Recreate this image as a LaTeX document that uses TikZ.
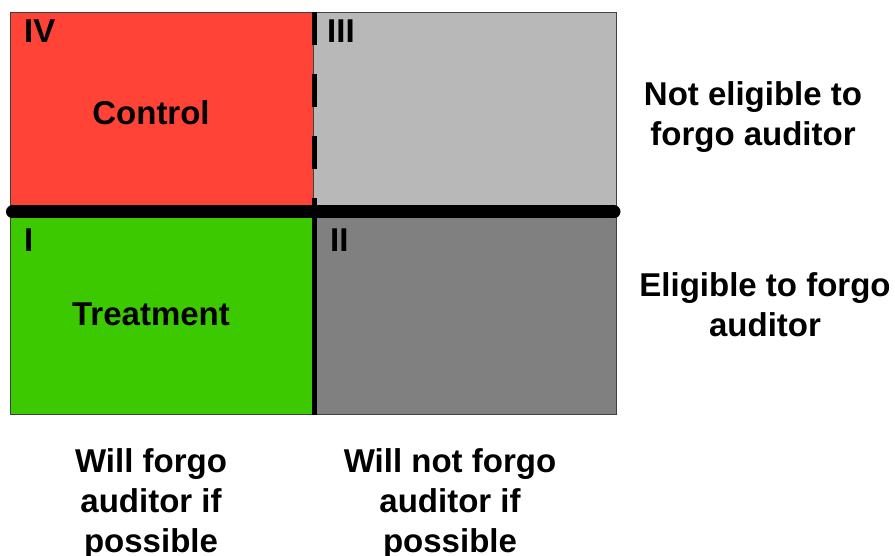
\documentclass[tikz,border=0pt]{standalone}
\usepackage{fontspec}
\setmainfont{Liberation Sans}
\usetikzlibrary{positioning}
\definecolor{ctrlred}{RGB}{255,67,55}
\definecolor{treatgreen}{RGB}{61,201,0}
\definecolor{greylight}{RGB}{184,184,184}
\definecolor{greydark}{RGB}{128,128,128}
\tikzset{
	quad/.style={draw=black!75, line width=1pt, minimum width=303pt, minimum height=201pt, inner sep=0pt, anchor=north west},
	lbl/.style={font=\bfseries\fontsize{33}{40}\selectfont, inner sep=0pt, align=center},
	roman/.style={lbl, anchor=north west}
}
\begin{document}
\begin{tikzpicture}[x=1pt,y=-1pt]
		\useasboundingbox (0,0) rectangle (895,556);
		% the four groups
		\node[quad, fill=ctrlred]    (q4) at (10,12)   {};
		\node[quad, fill=greylight]  (q3) at (313,12)  {};
		\node[quad, fill=treatgreen] (q1) at (10,213)  {};
		\node[quad, fill=greydark]   (q2) at (313,213) {};
		% dividing lines
		\draw[line width=5pt, dash pattern=on 33pt off 29pt] (q4.north east) -- (q4.south east);
		\draw[line width=5pt] (q1.north east) -- (q1.south east);
		\coordinate (hl) at (12.5,212);
		\coordinate (hr) at (614,212);
		\draw[line width=13pt, line cap=round] (hl) -- (hr);
		% labels
		\node[roman] (n4) at (24,20)  {IV};
		\node[roman] (n3) at (327,20) {III};
		\node[roman] (n1) at (24,229) {I};
		\node[roman] (n2) at (330,229) {II};
		\node[lbl] (ctl) at (151,112.5) {Control};
		\node[lbl] (trt) at (151,314.5) {Treatment};
		\node[lbl, anchor=north] (inel) at (753,81)  {Not eligible to\\forgo auditor};
		\node[lbl, anchor=north] (elig) at (765,272) {Eligible to forgo\\auditor};
		\node[lbl, anchor=north] (will) at (151,448) {Will forgo\\auditor if\\possible};
		\node[lbl, anchor=north] (wont) at (450,448) {Will not forgo\\auditor if\\possible};
	\end{tikzpicture}
\end{document}
